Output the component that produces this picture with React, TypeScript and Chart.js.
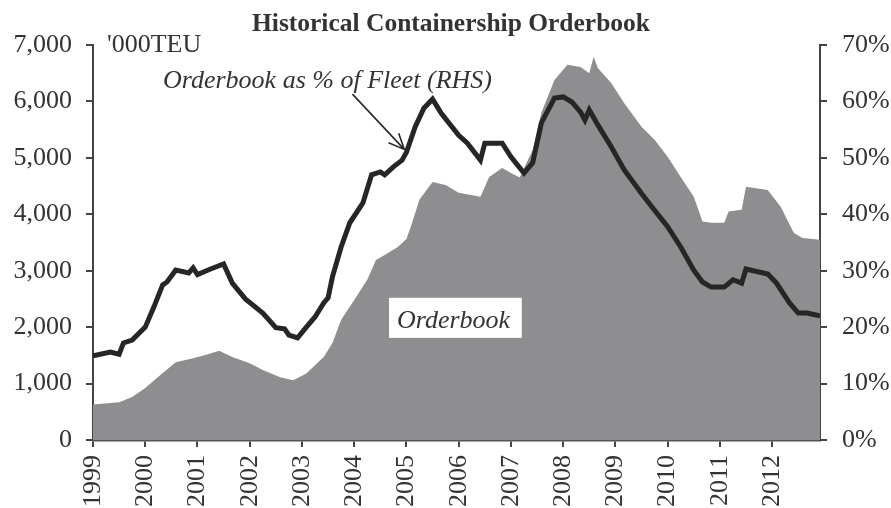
import React, { useEffect, useRef } from "react";
import { Chart, registerables } from "chart.js";

Chart.register(...registerables);

// Year tick labels (month index 0 = Jan 1999)
const yearLabels = ["1999", "2000", "2001", "2002", "2003", "2004", "2005", "2006", "2007", "2008", "2009", "2010", "2011", "2012"];

// Orderbook ('000 TEU), left axis
const orderbookMonths = [0, 6, 9, 12, 15, 19, 23, 26, 29, 32, 36, 39, 43, 46, 49, 53, 55, 57, 60, 63, 65, 67, 70, 72, 73, 75, 78, 81, 84, 89, 91, 94, 96, 98, 101, 103, 106, 109, 112, 114, 115, 116, 119, 122, 126, 129, 132, 135, 138, 140, 142, 145, 146, 149, 150, 155, 158, 161, 163, 167];
const orderbookTEU = [630, 670, 760, 920, 1120, 1380, 1450, 1510, 1580, 1470, 1360, 1240, 1110, 1060, 1180, 1470, 1720, 2130, 2480, 2840, 3190, 3280, 3420, 3560, 3780, 4260, 4570, 4520, 4380, 4310, 4660, 4820, 4730, 4650, 5140, 5800, 6380, 6650, 6610, 6500, 6790, 6590, 6330, 5970, 5550, 5320, 5020, 4660, 4310, 3870, 3850, 3850, 4050, 4080, 4490, 4430, 4130, 3670, 3580, 3550];

// Orderbook as % of fleet, right axis
const pctMonths = [0, 4, 6, 7, 9, 12, 14, 16, 17, 19, 22, 23, 24, 27, 30, 32, 35, 39, 42, 44, 45, 47, 49, 51, 53, 54, 55, 57, 59, 62, 64, 66, 67, 69, 71, 72, 74, 76, 78, 80, 84, 86, 89, 90, 94, 96, 99, 101, 103, 106, 108, 110, 112, 113, 114, 116, 119, 122, 126, 129, 132, 135, 138, 140, 142, 145, 147, 149, 150, 155, 157, 160, 162, 164, 167];
const pctOfFleet = [14.9, 15.6, 15.2, 17.2, 17.7, 20.0, 23.6, 27.5, 28.0, 30.1, 29.6, 30.5, 29.3, 30.3, 31.2, 27.8, 25.0, 22.5, 19.9, 19.7, 18.6, 18.1, 20.0, 21.8, 24.3, 25.2, 28.9, 34.2, 38.5, 42.0, 47.0, 47.5, 47.0, 48.4, 49.6, 51.0, 55.5, 58.8, 60.4, 57.9, 54.0, 52.6, 49.6, 52.6, 52.6, 50.2, 47.3, 49.1, 56.2, 60.6, 60.8, 59.9, 58.1, 56.7, 58.5, 55.8, 52.0, 47.9, 43.7, 40.7, 37.8, 34.2, 30.1, 28.0, 27.1, 27.1, 28.4, 27.8, 30.3, 29.4, 27.8, 24.3, 22.5, 22.5, 22.0];

const leftMax = 7000;
const rightMax = 70;

export default function App() {
  const ref = useRef<HTMLCanvasElement>(null);

  useEffect(() => {
    document.body.style.margin = "0";
    const canvas = ref.current!;
    const SERIF = "'Liberation Serif', 'Times New Roman', serif";
    const TEXT = "#333333";
    const TICK_SIZE = 26;

    const annotations = {
      id: "annotations",
      afterDatasetsDraw(chart: any) {
        const c = chart.ctx;
        const x = chart.scales.x;
        const yR = chart.scales.yR;
        c.save();
        // White label box on the area
        const bx0 = x.getPixelForValue(68);
        const bx1 = x.getPixelForValue(98.5);
        const by0 = chart.scales.yL.getPixelForValue(2520);
        const by1 = chart.scales.yL.getPixelForValue(1810);
        c.fillStyle = "#ffffff";
        c.fillRect(bx0, by0, bx1 - bx0, by1 - by0);
        c.fillStyle = TEXT;
        c.font = `italic 26px ${SERIF}`;
        c.textAlign = "left";
        c.textBaseline = "alphabetic";
        c.fillText("Orderbook", bx0 + 8, by1 - 10);

        // Arrow pointing to the line
        const tipX = x.getPixelForValue(71.5);
        const tipY = yR.getPixelForValue(51.5);
        const sx = x.getPixelForValue(59.6);
        const sy = yR.getPixelForValue(61.3);
        c.strokeStyle = "#2a2a2a";
        c.lineWidth = 1.6;
        c.beginPath();
        c.moveTo(sx, sy);
        c.lineTo(tipX, tipY);
        const ang = Math.atan2(tipY - sy, tipX - sx);
        const hl = 17;
        c.moveTo(tipX - hl * Math.cos(ang - 0.42), tipY - hl * Math.sin(ang - 0.42));
        c.lineTo(tipX, tipY);
        c.lineTo(tipX - hl * Math.cos(ang + 0.42), tipY - hl * Math.sin(ang + 0.42));
        c.stroke();
        c.restore();
      },
      afterDraw(chart: any) {
        const c = chart.ctx;
        c.save();
        c.fillStyle = TEXT;
        c.textBaseline = "alphabetic";
        c.textAlign = "center";
        c.font = `bold 25.5px ${SERIF}`;
        c.fillText("Historical Containership Orderbook", 451, 31);
        c.textAlign = "left";
        c.font = `26px ${SERIF}`;
        c.fillText("'000TEU", 107, 52);
        c.font = `italic 26px ${SERIF}`;
        c.fillText("Orderbook as % of Fleet (RHS)", 163, 88);
        c.restore();
      },
    };

    const chart = new Chart(canvas, {
      type: "line",
      data: {
        datasets: [
          {
            label: "Orderbook as % of Fleet (RHS)",
            data: pctMonths.map((m, i) => ({ x: m, y: pctOfFleet[i] })),
            yAxisID: "yR",
            borderColor: "#262626",
            borderWidth: 5,
            pointRadius: 0,
            fill: false,
            tension: 0,
            order: 0,
          },
          {
            label: "Orderbook",
            data: orderbookMonths.map((m, i) => ({ x: m, y: orderbookTEU[i] })),
            yAxisID: "yL",
            borderWidth: 0,
            borderColor: "rgba(0,0,0,0)",
            backgroundColor: "#8e8e90",
            pointRadius: 0,
            fill: "origin",
            tension: 0,
            order: 1,
          },
        ],
      },
      options: {
        responsive: false,
        animation: false,
        events: [],
        layout: { padding: { top: 45, left: 0, right: 0, bottom: 0 } },
        plugins: {
          legend: { display: false },
          title: { display: false },
          tooltip: { enabled: false },
        },
        scales: {
          x: {
            type: "linear",
            position: "bottom",
            min: 0,
            max: 167,
            afterBuildTicks: (s: any) => {
              s.ticks = yearLabels.map((_, i) => ({ value: i * 12 }));
            },
            afterFit: (s: any) => {
              s.height = 68;
              s.paddingLeft = 0;
              s.paddingRight = 0;
            },
            ticks: {
              autoSkip: false,
              maxRotation: 90,
              minRotation: 90,
              padding: 8,
              color: TEXT,
              font: { family: SERIF, size: TICK_SIZE },
              callback: (v: any) => yearLabels[Math.round(v / 12)] ?? "",
            },
            grid: { drawOnChartArea: false, drawTicks: true, tickLength: 7, color: "#444", lineWidth: 2 },
            border: { color: "#555", width: 2.5 },
          },
          yL: {
            type: "linear",
            position: "left",
            min: 0,
            max: leftMax,
            afterFit: (s: any) => {
              s.width = 93;
              s.paddingTop = 0;
              s.paddingBottom = 0;
            },
            ticks: {
              stepSize: 1000,
              padding: 14,
              color: TEXT,
              font: { family: SERIF, size: TICK_SIZE },
              callback: (v: any) => Number(v).toLocaleString("en-US"),
            },
            grid: { drawOnChartArea: false, drawTicks: true, tickLength: 7, color: "#444", lineWidth: 2 },
            border: { color: "#444", width: 2 },
          },
          yR: {
            type: "linear",
            position: "right",
            min: 0,
            max: rightMax,
            afterFit: (s: any) => {
              s.width = 71;
              s.paddingTop = 0;
              s.paddingBottom = 0;
            },
            ticks: {
              stepSize: 10,
              padding: 15,
              color: TEXT,
              font: { family: SERIF, size: TICK_SIZE },
              callback: (v: any) => `${v}%`,
            },
            grid: { drawOnChartArea: false, drawTicks: true, tickLength: 7, color: "#444", lineWidth: 2 },
            border: { color: "#444", width: 2 },
          },
        },
      },
      plugins: [annotations],
    } as any);

    return () => chart.destroy();
  }, []);

  return (
    <div style={{ width: 891, height: 508 }}>
      <canvas ref={ref} width={891} height={508} style={{ display: "block", width: 891, height: 508 }} />
    </div>
  );
}
